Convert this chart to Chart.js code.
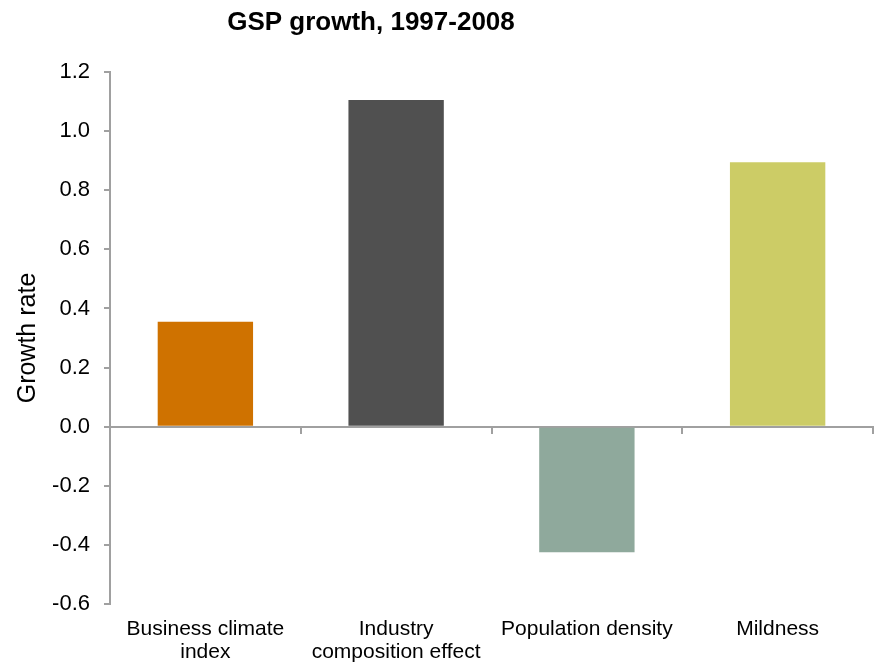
<!DOCTYPE html>
<html>
<head>
<meta charset="utf-8">
<script src="https://cdn.jsdelivr.net/npm/chart.js@4/dist/chart.umd.min.js"></script>
<style>
  html, body { margin: 0; padding: 0; background: #fff; }
  #wrap { width: 877px; height: 665px; }
</style>
</head>
<body>
<div id="wrap"><canvas id="gspChart"></canvas></div>
<script>
// categories and growth rates
const categories = [
    ["Business climate", "index"],
    ["Industry", "composition effect"],
    ["Population density"],
    ["Mildness"]
];
const growthRates = [0.355, 1.105, -0.425, 0.895];
const barColors = ["#CF7200", "#505050", "#8FA99C", "#CCCC66"];
const chartTitle = "GSP growth, 1997-2008";

const axisGray = "#A0A0A0";
const fontFamily = "'Liberation Sans', Arial, sans-serif";

Chart.defaults.font.family = fontFamily;
Chart.defaults.color = "#000";

// title sits left of centre, over the first three bars
const titlePlugin = {
    id: "gspTitle",
    afterDraw(chart) {
        const c = chart.ctx;
        c.save();
        c.font = "bold 26px " + fontFamily;
        c.fillStyle = "#000";
        c.textAlign = "center";
        c.textBaseline = "middle";
        c.fillText(chartTitle, 371, 23);
        c.restore();
    }
};

const ctx = document.getElementById("gspChart").getContext("2d");
new Chart(ctx, {
    type: "bar",
    data: {
        labels: categories,
        datasets: [{
            data: growthRates,
            backgroundColor: barColors,
            borderWidth: 0,
            barPercentage: 0.5,
            categoryPercentage: 1.0,
            xAxisID: "x",
            yAxisID: "y"
        }]
    },
    plugins: [titlePlugin],
    options: {
        responsive: true,
        maintainAspectRatio: false,
        animation: false,
        layout: { padding: { top: 72, right: 4, bottom: 0, left: 0 } },
        plugins: {
            legend: { display: false },
            tooltip: { enabled: false },
            title: { display: false }
        },
        scales: {
            x: {
                position: "bottom",
                grid: { display: false },
                border: { display: false },
                ticks: {
                    font: { size: 21, lineHeight: 1.1 },
                    padding: 6,
                    maxRotation: 0,
                    autoSkip: false
                },
                afterFit: scale => { scale.height = 61; }
            },
            // zero line with its category tick marks
            x2: {
                position: { y: 0 },
                grid: { drawOnChartArea: false, drawTicks: true, tickLength: 6, color: axisGray, lineWidth: 2, offset: true },
                border: { color: axisGray, width: 2 },
                ticks: { display: false }
            },
            y: {
                min: -0.6,
                max: 1.2,
                grid: { drawOnChartArea: false, drawTicks: true, tickLength: 6, color: axisGray, lineWidth: 2 },
                border: { color: axisGray, width: 2 },
                ticks: {
                    stepSize: 0.2,
                    font: { size: 22 },
                    padding: 14,
                    callback: v => v.toFixed(1)
                },
                title: {
                    display: true,
                    text: "Growth rate",
                    font: { size: 25 },
                    color: "#000",
                    padding: { top: 13, bottom: 0 }
                },
                afterFit: scale => { scale.width = 110; }
            }
        }
    }
});
</script>
</body>
</html>
